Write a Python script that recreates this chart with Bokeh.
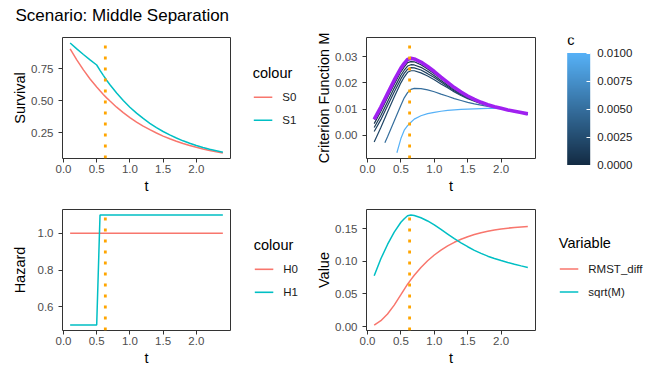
from bokeh.plotting import figure
from bokeh.models import (Span, FixedTicker, NumeralTickFormatter, BoxAnnotation,
                          LinearColorMapper, ColorBar, Label, Range1d, ColumnDataSource)
from bokeh.layouts import column, row
from bokeh.transform import linear_cmap
from bokeh.embed import file_html
from bokeh.resources import INLINE

FONT = "Liberation Sans"
RED = "#F8766D"
CYAN = "#00BFC4"
PURPLE = "#A020F0"
ORANGE = "#FFA500"
TICK_GREY = "#4D4D4D"

title_text = "Scenario: Middle Separation"
t_star = 0.63

# ---------------- data ----------------
t = [0.1, 0.2, 0.3, 0.4, 0.5, 0.55, 0.6, 0.65, 0.7, 0.8, 0.9, 1.0, 1.1, 1.2, 1.3,
     1.4, 1.5, 1.6, 1.7, 1.8, 1.9, 2.0, 2.1, 2.2, 2.3, 2.4]

S0 = [0.905, 0.819, 0.741, 0.670, 0.607, 0.577, 0.549, 0.522, 0.497, 0.449, 0.407, 0.368,
      0.333, 0.301, 0.273, 0.247, 0.223, 0.202, 0.183, 0.165, 0.150, 0.135, 0.122, 0.111,
      0.100, 0.091]
S1 = [0.951, 0.905, 0.861, 0.819, 0.779, 0.737, 0.698, 0.660, 0.625, 0.560, 0.502, 0.449,
      0.403, 0.361, 0.323, 0.289, 0.259, 0.232, 0.208, 0.186, 0.167, 0.150, 0.134, 0.120,
      0.108, 0.096]

t_haz = [0.1, 0.5, 0.55, 2.4]
H0 = [1.0, 1.0, 1.0, 1.0]
H1 = [0.5, 0.5, 1.1, 1.1]

RMST_diff = [0.0024, 0.0091, 0.0194, 0.0329, 0.0489, 0.0572, 0.0650, 0.0721, 0.0788, 0.0907,
             0.1010, 0.1098, 0.1173, 0.1238, 0.1293, 0.1339, 0.1379, 0.1412, 0.1440, 0.1462,
             0.1482, 0.1498, 0.1510, 0.1521, 0.1529, 0.1535]
sqrt_M = [0.078, 0.104, 0.126, 0.145, 0.160, 0.1655, 0.170, 0.1712, 0.1705, 0.167, 0.162,
          0.156, 0.149, 0.142, 0.135, 0.1285, 0.1225, 0.117, 0.1123, 0.108, 0.1045, 0.1013,
          0.0984, 0.0957, 0.0931, 0.0906]

M = [0.0061, 0.0108, 0.0159, 0.0210, 0.0256, 0.0274, 0.0289, 0.0293, 0.0291, 0.0279, 0.0262,
     0.0243, 0.0222, 0.0202, 0.0182, 0.0165, 0.0150, 0.0137, 0.0126, 0.0117, 0.0109, 0.0103,
     0.0097, 0.0092, 0.0087, 0.0082]

c_values = [0.0, 0.0005, 0.001, 0.0015, 0.002, 0.005, 0.01]
t_c0 = t
M_c0 = [0.0061, 0.0108, 0.0159, 0.0210, 0.0256, 0.0274, 0.0289, 0.0293, 0.0291, 0.0279, 0.0262,
        0.0243, 0.0222, 0.0202, 0.0182, 0.0165, 0.0150, 0.0137, 0.0126, 0.0117, 0.0109, 0.0103,
        0.0097, 0.0092, 0.0087, 0.0082]
t_c1 = t
M_c1 = [0.0045, 0.0092, 0.0144, 0.0195, 0.0242, 0.0261, 0.0277, 0.0281, 0.0280, 0.0269, 0.0253,
        0.0235, 0.0216, 0.0197, 0.0178, 0.0162, 0.0148, 0.0135, 0.0125, 0.0116, 0.0109, 0.0103,
        0.0097, 0.0092, 0.0087, 0.0082]
t_c2 = t
M_c2 = [0.0030, 0.0076, 0.0128, 0.0180, 0.0229, 0.0248, 0.0264, 0.0269, 0.0268, 0.0259, 0.0244,
        0.0227, 0.0209, 0.0191, 0.0173, 0.0158, 0.0145, 0.0133, 0.0124, 0.0116, 0.0108, 0.0103,
        0.0097, 0.0092, 0.0087, 0.0082]
t_c3 = t
M_c3 = [0.0015, 0.0060, 0.0113, 0.0165, 0.0215, 0.0236, 0.0252, 0.0258, 0.0257, 0.0249, 0.0235,
        0.0220, 0.0203, 0.0186, 0.0169, 0.0155, 0.0143, 0.0132, 0.0123, 0.0115, 0.0108, 0.0103,
        0.0097, 0.0092, 0.0087, 0.0082]
t_c4 = t
M_c4 = [-0.0025, 0.0030, 0.0089, 0.0146, 0.0200, 0.0222, 0.0240, 0.0246, 0.0246, 0.0238, 0.0226,
        0.0212, 0.0196, 0.0181, 0.0165, 0.0152, 0.0140, 0.0130, 0.0121, 0.0114, 0.0108, 0.0103,
        0.0097, 0.0092, 0.0087, 0.0082]
t_c5 = [0.26, 0.3, 0.4, 0.5, 0.55, 0.6, 0.65, 0.7, 0.8, 0.9, 1.0, 1.1, 1.2, 1.3, 1.4, 1.5, 1.6,
        1.7, 1.8, 1.9, 2.0, 2.1, 2.2, 2.3, 2.4]
M_c5 = [-0.0028, -0.0005, 0.0055, 0.0115, 0.0143, 0.0163, 0.0175, 0.0179, 0.0178, 0.0173, 0.0166,
        0.0157, 0.0149, 0.0140, 0.0133, 0.0126, 0.0120, 0.0115, 0.0110, 0.0106, 0.0102, 0.0097,
        0.0092, 0.0087, 0.0082]
t_c6 = [0.44, 0.5, 0.55, 0.6, 0.65, 0.7, 0.8, 0.9, 1.0, 1.1, 1.2, 1.3, 1.4, 1.5, 1.6, 1.7, 1.8,
        1.9, 2.0, 2.1, 2.2, 2.3, 2.4]
M_c6 = [-0.0066, -0.0012, 0.0020, 0.0037, 0.0050, 0.0062, 0.0075, 0.0083, 0.0088, 0.0092, 0.0095,
        0.0097, 0.0099, 0.0100, 0.0101, 0.0102, 0.0103, 0.0103, 0.0102, 0.0097, 0.0092, 0.0087,
        0.0082]

x_ticks = [0.0, 0.5, 1.0, 1.5, 2.0]
surv_ticks = [0.25, 0.50, 0.75]
crit_ticks = [0.00, 0.01, 0.02, 0.03]
haz_ticks = [0.6, 0.8, 1.0]
val_ticks = [0.00, 0.05, 0.10, 0.15]
c_ticks = [0.0, 0.0025, 0.005, 0.0075, 0.01]

# ---------------- layout sizes ----------------
X_RANGE = (-0.015, 2.515)
FRAME_H = 121
P_LEFT_W = 62 + 168 + 4      # left-column panel figure width
LEG_L_W = 312 - P_LEFT_W     # left-column legend strip width
P_RIGHT_TOP_W = 54 + 169 + 10
CB_W = 102
TOTAL_W = 312 + P_RIGHT_TOP_W + CB_W
P_RIGHT_BOT_W = 54 + 169 + 4
LEG_R_W = TOTAL_W - 312 - P_RIGHT_BOT_W
TOP_H = 11 + FRAME_H + 43


def base_fig(left, right, top, bottom, yr, frame_w):
    p = figure(frame_width=frame_w, frame_height=FRAME_H,
               min_border_left=left, min_border_right=right,
               min_border_top=top, min_border_bottom=bottom,
               x_range=Range1d(*X_RANGE), y_range=Range1d(*yr),
               output_backend="svg", toolbar_location=None)
    p.xgrid.visible = False
    p.ygrid.visible = False
    p.outline_line_color = "#333333"
    p.outline_line_width = 1
    p.background_fill_color = "white"
    p.border_fill_color = "white"
    return p


def blank_fig(w, h):
    p = figure(frame_width=w, frame_height=h, min_border=0,
               x_range=Range1d(0, 1), y_range=Range1d(0, 1),
               x_axis_location=None, y_axis_location=None,
               output_backend="svg", toolbar_location=None)
    p.xgrid.visible = False
    p.ygrid.visible = False
    p.outline_line_color = None
    return p


def style_axes(p, xlabel, ylabel, yticks, yfmt, ylab_standoff):
    for ax in (p.xaxis[0], p.yaxis[0]):
        ax.axis_line_color = None
        ax.major_tick_line_color = "#333333"
        ax.major_tick_out = 4
        ax.major_tick_in = 0
        ax.minor_tick_line_color = None
        ax.major_label_text_font = FONT
        ax.major_label_text_font_size = "11.5px"
        ax.major_label_text_color = TICK_GREY
        ax.axis_label_text_font = FONT
        ax.axis_label_text_font_size = "14.5px"
        ax.axis_label_text_font_style = "normal"
        ax.axis_label_text_color = "black"
    p.xaxis.axis_label = xlabel
    p.yaxis.axis_label = ylabel
    p.xaxis.ticker = FixedTicker(ticks=x_ticks)
    p.xaxis.formatter = NumeralTickFormatter(format="0.0")
    p.yaxis.ticker = FixedTicker(ticks=yticks)
    p.yaxis.formatter = NumeralTickFormatter(format=yfmt)
    p.xaxis.major_label_standoff = 2
    p.xaxis.axis_label_standoff = 2
    p.yaxis.major_label_standoff = 5
    p.yaxis.axis_label_standoff = ylab_standoff


def add_vline(p):
    p.add_layout(Span(location=t_star, dimension="height", line_color=ORANGE,
                      line_width=2.8, line_dash="3 8", line_dash_offset=3))


def legend_fig(w, title, entries, x0, title_mid, first_mid, pitch):
    """Legend drawn as real text plus short key lines (screen units, measured
    from the bottom-left of the strip, whose frame lines up with the panel)."""
    lf = blank_fig(w, FRAME_H)
    lf.add_layout(Label(x=x0 - 1, y=FRAME_H - title_mid, x_units="screen", y_units="screen",
                        text=title, text_font=FONT, text_font_size="14.5px",
                        text_color="black", text_baseline="middle", text_align="left"))
    for i, (lab, col) in enumerate(entries):
        ymid = FRAME_H - (first_mid + i * pitch)
        lf.add_layout(BoxAnnotation(left=x0, right=x0 + 18.5, bottom=ymid - 0.8, top=ymid + 0.8,
                                    left_units="screen", right_units="screen",
                                    bottom_units="screen", top_units="screen",
                                    fill_color=col, fill_alpha=1.0, line_color=None,
                                    level="overlay"))
        lf.add_layout(Label(x=x0 + 28.5, y=ymid, x_units="screen", y_units="screen",
                            text=lab, text_font=FONT, text_font_size="11.5px",
                            text_color="#1A1A1A", text_baseline="middle", text_align="left"))
    return lf


# ---------------- title strip ----------------
strip = blank_fig(TOTAL_W, 26)
strip.add_layout(Label(x=15, y=11.2, x_units="screen", y_units="screen", text=title_text,
                       text_font=FONT, text_font_size="17px", text_color="black",
                       text_baseline="middle", text_align="left"))

# ---------------- top-left: survival ----------------
p1 = base_fig(62, 4, 11, 43, (0.0477, 0.9942), 168)
style_axes(p1, "t", "Survival", surv_ticks, "0.00", 0)
p1.line(t, S0, line_color=RED, line_width=1.5)
p1.line(t, S1, line_color=CYAN, line_width=1.5)
add_vline(p1)
# frame of this strip spans page y 37..158, x 234..312
leg1 = legend_fig(LEG_L_W, "colour", [("S0", RED), ("S1", CYAN)],
                  253.3 - 234, 72.3 - 37, 96.8 - 37, 23)

# ---------------- top-right: criterion ----------------
lo = (0x13, 0x2B, 0x43)
hi = (0x56, 0xB1, 0xF7)
palette = ["#%02x%02x%02x" % tuple(int(round(a + (b - a) * i / 255)) for a, b in zip(lo, hi))
           for i in range(256)]

p2 = base_fig(54, 10, 11, 43, (-0.00878, 0.03725), 169)
style_axes(p2, "t", "Criterion Function M", crit_ticks, "0.00", 0)
csrc = ColumnDataSource(dict(
    xs=[t_c0, t_c1, t_c2, t_c3, t_c4, t_c5, t_c6],
    ys=[M_c0, M_c1, M_c2, M_c3, M_c4, M_c5, M_c6],
    c=c_values))
p2.multi_line("xs", "ys", source=csrc, line_width=1.2,
              line_color=linear_cmap("c", palette, 0.0, 0.01))
p2.line(t, M, line_color=PURPLE, line_width=3.6)
add_vline(p2)

cbfig = blank_fig(CB_W, TOP_H)
mapper = LinearColorMapper(palette=palette, low=0.0, high=0.01)
cb = ColorBar(color_mapper=mapper, orientation="vertical", location=(21.7, 47.5),
              width=23, height=112, padding=0, margin=0,
              ticker=FixedTicker(ticks=c_ticks), formatter=NumeralTickFormatter(format="0.0000"),
              major_label_text_font=FONT, major_label_text_font_size="11.5px",
              major_label_text_color="#1A1A1A", label_standoff=7,
              major_tick_in=4, major_tick_out=0, major_tick_line_color="white",
              minor_tick_line_color=None, bar_line_color=None,
              background_fill_alpha=0, border_line_color=None)
cbfig.add_layout(cb)
cbfig.add_layout(Label(x=21.7, y=173, x_units="screen", y_units="screen",
                       text="c", text_font=FONT, text_font_size="14.5px", text_color="black",
                       text_baseline="middle", text_align="left"))

# ---------------- bottom-left: hazard ----------------
p3 = base_fig(62, 4, 8, 42, (0.47, 1.13), 168)
style_axes(p3, "t", "Hazard", haz_ticks, "0.0", 7)
p3.line(t_haz, H0, line_color=RED, line_width=1.5)
p3.line(t_haz, H1, line_color=CYAN, line_width=1.5)
add_vline(p3)
# frame of this strip spans page y 209..330
leg3 = legend_fig(LEG_L_W, "colour", [("H0", RED), ("H1", CYAN)],
                  254.3 - 234, 244.3 - 209, 268.8 - 209, 23)

# ---------------- bottom-right: values ----------------
p4 = base_fig(54, 4, 8, 42, (-0.006, 0.1796), 169)
style_axes(p4, "t", "Value", val_ticks, "0.00", 0)
p4.line(t, RMST_diff, line_color=RED, line_width=1.5)
p4.line(t, sqrt_M, line_color=CYAN, line_width=1.5)
add_vline(p4)
# frame of this strip spans page y 209..330, x 539..647
leg4 = legend_fig(LEG_R_W, "Variable", [("RMST_diff", RED), ("sqrt(M)", CYAN)],
                  559.3 - 539, 242.7 - 209, 268.5 - 209, 23)

layout = column(strip, row(p1, leg1, p2, cbfig), row(p3, leg3, p4, leg4))
open("out.html", "w").write(file_html(layout, INLINE))
